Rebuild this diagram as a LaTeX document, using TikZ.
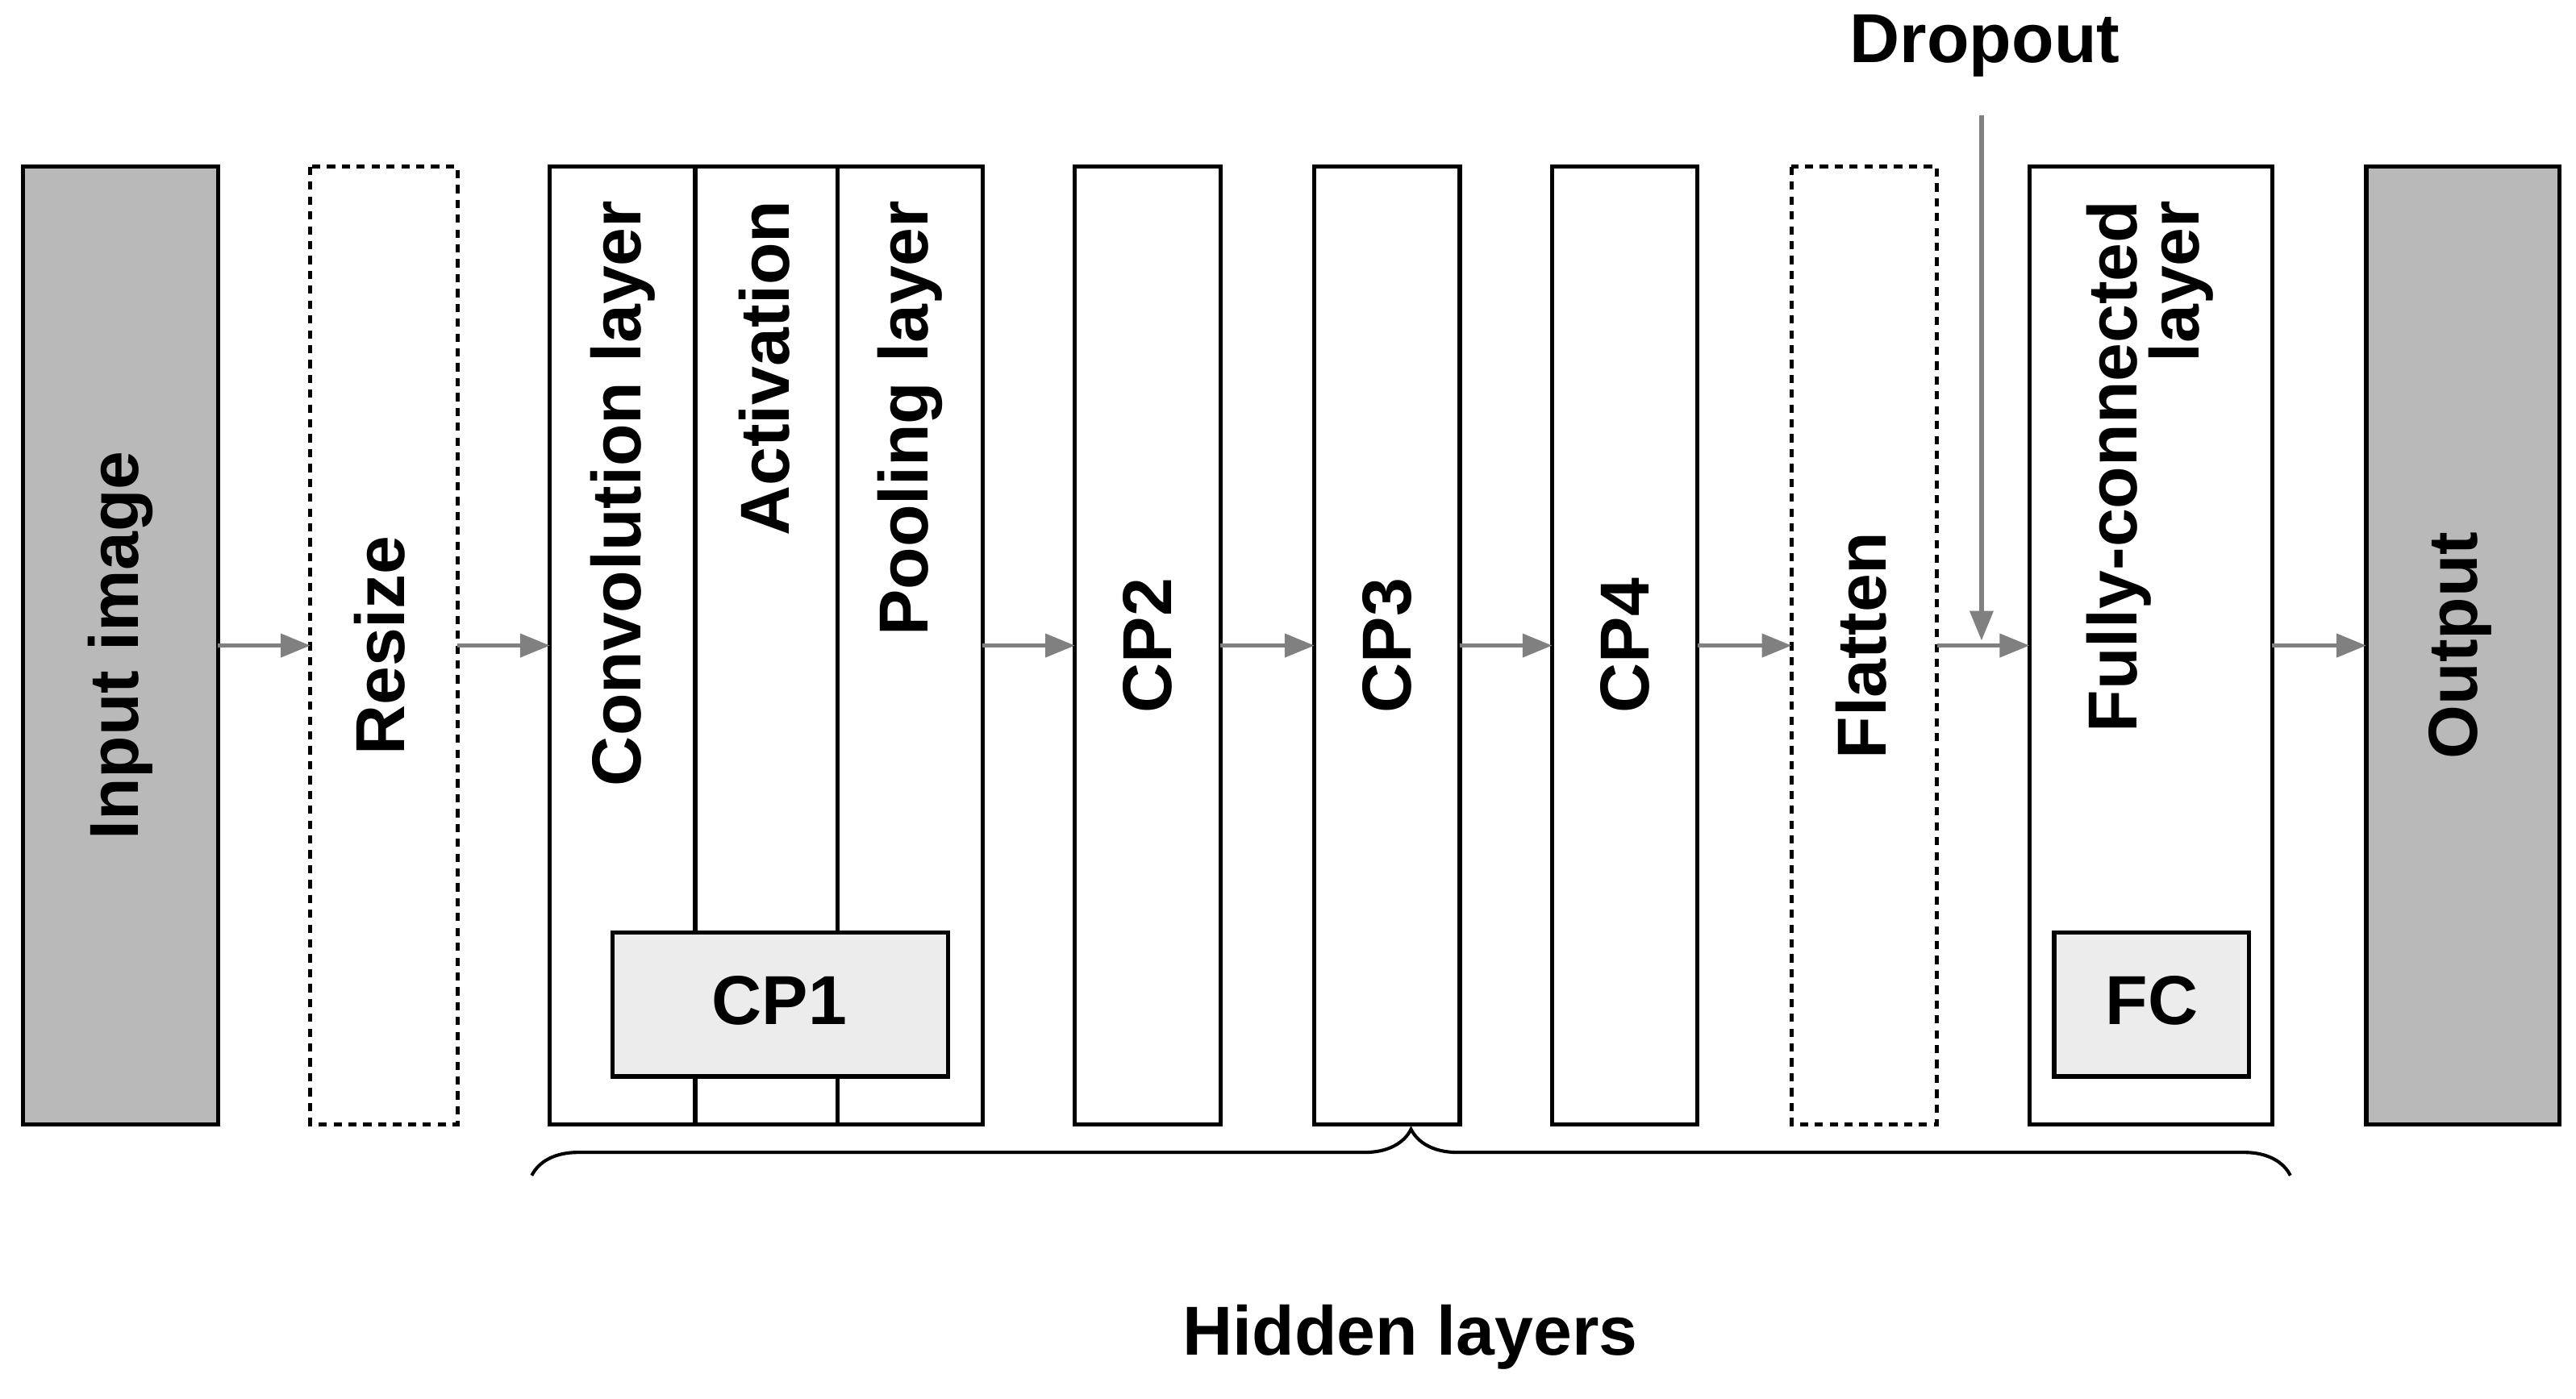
\documentclass[tikz,border=0pt]{standalone}
\usepackage{fontspec}
\setmainfont{Liberation Sans}
\usetikzlibrary{arrows.meta,decorations.pathreplacing}
\begin{document}
\begin{tikzpicture}[x=1pt,y=-1pt,
  box/.style={draw,line width=2.5pt,inner sep=0pt},
  dbox/.style={box,dash pattern=on 5pt off 4pt},
  lbl/.style={font=\fontsize{42}{44}\selectfont\bfseries,rotate=90},
  ar/.style={draw=gray,line width=2.5pt,-{Triangle[length=18pt,width=14pt]}}]
\useasboundingbox (0,0) rectangle (1560,847);
\draw[box,fill=gray!55] (14,101) rectangle (132,681);
\draw[dbox] (188,101) rectangle (277,681);
\draw[box] (333,101) rectangle (595,681);
\draw[box] (421,101) -- (421,681);
\draw[box] (507,101) -- (507,681);
\draw[box,fill=gray!15] (371,565) rectangle (574,652);
\draw[box] (651,101) rectangle (739,681);
\draw[box] (796,101) rectangle (884,681);
\draw[box] (940,101) rectangle (1028,681);
\draw[dbox] (1085,101) rectangle (1173,681);
\draw[box] (1229,101) rectangle (1376,681);
\draw[box,fill=gray!15] (1244,565) rectangle (1362,652);
\draw[box,fill=gray!55] (1433,101) rectangle (1550,681);
\node[lbl] (in) at (73,391) {Input image};
\node[lbl] (rs) at (230,391) {Resize};
\node[lbl,anchor=east] at (377,118) {Convolution layer};
\node[lbl,anchor=east] at (463,118) {Activation};
\node[lbl,anchor=east] at (551,118) {Pooling layer};
\node[font=\fontsize{42}{44}\selectfont\bfseries] at (472,606) {CP1};
\node[lbl] at (695,391) {CP2};
\node[lbl] at (840,391) {CP3};
\node[lbl] at (984,391) {CP4};
\node[lbl] at (1127,391) {Flatten};
\node[lbl,anchor=east,align=right] at (1302,118) {Fully-connected\\[-6pt]layer};
\node[font=\fontsize{42}{44}\selectfont\bfseries] at (1303,606) {FC};
\node[lbl] at (1490,391) {Output};
\node[font=\fontsize{42}{44}\selectfont\bfseries] (dr) at (1202,28) {Dropout};
\coordinate (a0) at (132,391); \coordinate (a1) at (188,391);
\coordinate (b0) at (277,391); \coordinate (b1) at (333,391);
\coordinate (c0) at (595,391); \coordinate (c1) at (651,391);
\coordinate (d0) at (739,391); \coordinate (d1) at (796,391);
\coordinate (e0) at (884,391); \coordinate (e1) at (940,391);
\coordinate (f0) at (1028,391); \coordinate (f1) at (1085,391);
\coordinate (g0) at (1173,391); \coordinate (g1) at (1229,391);
\coordinate (h0) at (1376,391); \coordinate (h1) at (1433,391);
\coordinate (dt) at (1200,388);
\foreach \p/\q in {a0/a1,b0/b1,c0/c1,d0/d1,e0/e1,f0/f1,g0/g1,h0/h1} \path[ar] (\p) -- (\q);
\path[ar] (1200,70) -- (dt);
\draw[line width=2pt,decorate,decoration={brace,amplitude=28pt,aspect=0.5}] (322,712) -- (1387,712);
\node[font=\fontsize{42}{44}\selectfont\bfseries] (hl) at (854,810) {Hidden layers};
\end{tikzpicture}
\end{document}
